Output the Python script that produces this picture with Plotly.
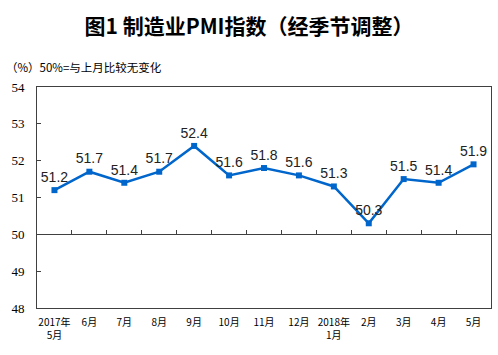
import plotly.graph_objects as go

months = ["2017年<br>5月", "6月", "7月", "8月", "9月", "10月", "11月", "12月",
          "2018年<br>1月", "2月", "3月", "4月", "5月"]
pmi = [51.2, 51.7, 51.4, 51.7, 52.4, 51.6, 51.8, 51.6, 51.3, 50.3, 51.5, 51.4, 51.9]
y_ticks = [48, 49, 50, 51, 52, 53, 54]

fig = go.Figure()
fig.add_trace(go.Scatter(
    x=months, y=pmi, mode="lines+markers+text",
    line=dict(color="#0066CC", width=2.5),
    marker=dict(symbol="square", size=6, color="#0066CC"),
    text=[f"{v:.1f}" for v in pmi], textposition="top center",
    textfont=dict(family="Liberation Sans, Arial", size=14, color="#222222"),
    cliponaxis=False, showlegend=False, xaxis="x", yaxis="y"))
# invisible trace to carry the 50-line axis
fig.add_trace(go.Scatter(x=months, y=pmi, mode="none", showlegend=False,
                         hoverinfo="skip", xaxis="x2", yaxis="y"))

fig.update_layout(
    width=498, height=355,
    margin=dict(l=37, r=7, t=87, b=47, autoexpand=False),
    paper_bgcolor="white", plot_bgcolor="white",
    title=dict(text="<b>图1 制造业PMI指数（经季节调整）</b>", x=0.5, xanchor="center",
               y=0.925, yanchor="middle",
               font=dict(family="Noto Sans CJK SC", size=21, color="#000000")),
    xaxis=dict(type="category", categoryorder="array", categoryarray=months,
               range=[-0.5, 12.5], showline=True, linecolor="#404040", linewidth=1,
               mirror=True, ticks="", showgrid=False, automargin=False,
               ticklabelstandoff=5,
               tickfont=dict(family="Noto Sans CJK SC", size=10, color="#000000")),
    xaxis2=dict(type="category", categoryorder="array", categoryarray=months,
                range=[-0.5, 12.5], overlaying="x", anchor="free", position=1/3,
                side="bottom", showline=True, linecolor="#404040", linewidth=1,
                ticks="inside", tickson="boundaries", ticklen=4, tickcolor="#404040",
                showticklabels=False, showgrid=False, automargin=False),
    yaxis=dict(range=[48, 54], tickvals=y_ticks, showline=True, linecolor="#404040",
               linewidth=1, mirror=True, ticks="inside", ticklen=4, tickcolor="#404040",
               showgrid=False, zeroline=False, ticklabelstandoff=9, automargin=False,
               tickfont=dict(family="Liberation Serif", size=13, color="#000000")),
    annotations=[dict(text="（%）50%=与上月比较无变化", xref="paper", yref="paper",
                      x=-0.072, y=1.09, xanchor="left", yanchor="middle", showarrow=False,
                      font=dict(family="Noto Sans CJK SC", size=11.5, color="#000000"))],
)

fig.write_html("out.html", config={"displayModeBar": False},
               post_script="document.body.style.margin='0';")
